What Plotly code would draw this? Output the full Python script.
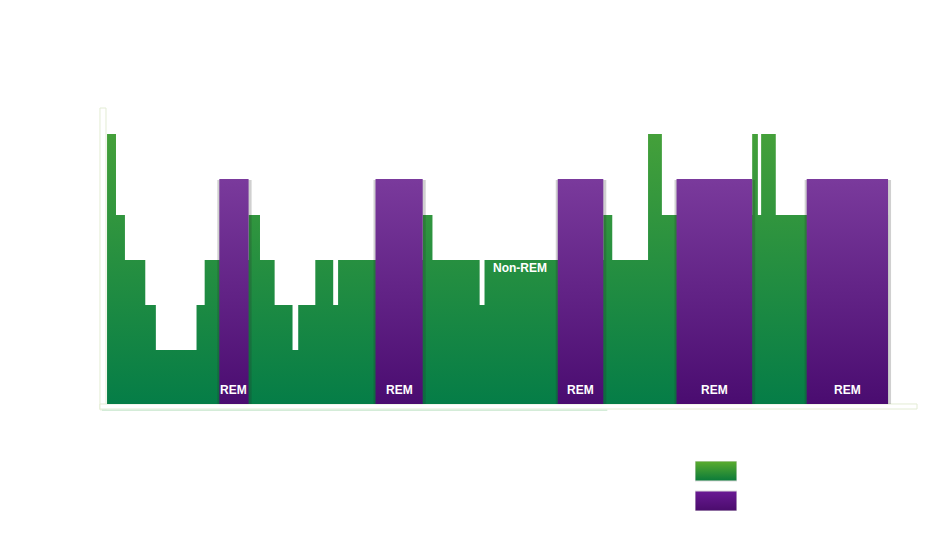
import plotly.graph_objects as go

# ---- data ----
# sleep stage depth levels (chart units)
stage_levels = {"Wake": 6.0, "N1": 4.2, "N2": 3.2, "N3": 2.2, "N4": 1.2}
rem_level = 5.0

# Non-REM hypnogram steps: (minute, stage)
nrem_times = [0, 5.5, 11, 23.5, 30, 55, 60, 87, 94, 103, 114, 117.5, 128, 139, 142,
              194, 200, 229, 232, 305, 310.5, 332.5, 341, 396.5, 400, 402, 411, 480]
nrem_stages = ["Wake", "N1", "N2", "N3", "N4", "N3", "N2", "N1", "N2", "N3", "N4", "N3",
               "N2", "N3", "N2", "N1", "N2", "N3", "N2", "N1", "N2", "Wake", "N1",
               "Wake", "N1", "Wake", "N1", "N1"]

# REM periods (start minute, end minute)
rem_start = [69, 165, 277, 350, 430]
rem_end = [87, 194, 305, 396.5, 480]

labels = ["Non-REM", "REM"]
nonrem_label_pos = (254, 3.02)

GREEN_TOP, GREEN_BOT = "#44a03a", "#057d47"
PURP_TOP, PURP_BOT = "#7a3a9c", "#4a0c70"

fig = go.Figure()

nrem_y = [stage_levels[s] for s in nrem_stages]
fig.add_trace(go.Scatter(
    x=nrem_times, y=nrem_y, mode="lines", line=dict(shape="hv", width=0, color=GREEN_BOT),
    fill="tozeroy",
    fillgradient=dict(type="vertical", start=0, stop=6,
                      colorscale=[[0, GREEN_BOT], [1, GREEN_TOP]]),
    hoverinfo="skip", showlegend=False))

px = 480 / 781.0  # minutes per pixel
# shadows
for s, e in zip(rem_start, rem_end):
    fig.add_trace(go.Scatter(
        x=[s - 2 * px, e + 3 * px, e + 3 * px, s - 2 * px, s - 2 * px],
        y=[0, 0, rem_level - 0.02, rem_level - 0.02, 0],
        mode="lines", line=dict(width=0), fill="toself",
        fillcolor="rgba(40,40,40,0.22)", hoverinfo="skip", showlegend=False))
for s, e in zip(rem_start, rem_end):
    fig.add_trace(go.Scatter(
        x=[s, e, e, s, s], y=[0, 0, rem_level, rem_level, 0],
        mode="lines", line=dict(width=0), fill="toself",
        fillgradient=dict(type="vertical", start=0, stop=rem_level,
                          colorscale=[[0, PURP_BOT], [1, PURP_TOP]]),
        hoverinfo="skip", showlegend=False))

FONT = "Liberation Sans, Arial"
annotations = []
for s, e in zip(rem_start, rem_end):
    annotations.append(dict(x=(s + e) / 2, y=0.31, xref="x", yref="y", text="<b>REM</b>",
                            showarrow=False, font=dict(color="white", size=12, family=FONT)))
annotations.append(dict(x=nonrem_label_pos[0], y=nonrem_label_pos[1], xref="x", yref="y",
                        text="<b>Non-REM</b>", showarrow=False,
                        font=dict(color="white", size=12, family=FONT)))

# legend swatches on a small auxiliary axis
fig.add_trace(go.Scatter(
    x=[0, 1, 1, 0, 0], y=[1.5, 1.5, 2.5, 2.5, 1.5], xaxis="x2", yaxis="y2",
    mode="lines", line=dict(width=1, color="#dcdcdc"), fill="toself",
    fillgradient=dict(type="vertical", start=1.5, stop=2.5,
                      colorscale=[[0, "#0a7a3a"], [1, "#5cad2e"]]),
    hoverinfo="skip", showlegend=False))
fig.add_trace(go.Scatter(
    x=[0, 1, 1, 0, 0], y=[0, 0, 1, 1, 0], xaxis="x2", yaxis="y2",
    mode="lines", line=dict(width=1, color="#dcdcdc"), fill="toself",
    fillgradient=dict(type="vertical", start=0, stop=1,
                      colorscale=[[0, "#4a0c6c"], [1, "#6a1a94"]]),
    hoverinfo="skip", showlegend=False))
for lab, yy in zip(labels, [2.0, 0.5]):
    annotations.append(dict(x=1.25, y=yy, xref="x2", yref="y2", text=lab, xanchor="left",
                            showarrow=False, font=dict(color="white", size=12, family=FONT)))

shapes = [
    dict(type="rect", xref="x domain", yref="y domain", x0=-0.0025, x1=0.0049,
         y0=-0.02, y1=1.0, line=dict(color="#e3ecd4", width=1), fillcolor="rgba(0,0,0,0)",
         layer="below"),
    dict(type="rect", xref="x domain", yref="y domain", x0=-0.0025, x1=1.0,
         y0=-0.017, y1=0.0, line=dict(color="#e3ecd4", width=1), fillcolor="white",
         layer="below"),
    dict(type="line", xref="x domain", yref="y domain", x0=0.0, x1=0.62,
         y0=-0.021, y1=-0.021, line=dict(color="#d4ecd8", width=1.5)),
]

fig.update_layout(
    width=950, height=550,
    margin=dict(l=94, r=41, t=100, b=38),
    paper_bgcolor="white", plot_bgcolor="white",
    xaxis=dict(range=[-3.1, 497.8], visible=False, domain=[0, 1]),
    yaxis=dict(range=[0, 6.58], visible=False, domain=[0.2816, 1]),
    xaxis2=dict(range=[0, 1], visible=False, domain=[0.7276, 0.7791], anchor="y2"),
    yaxis2=dict(range=[0, 2.5], visible=False, domain=[0.0218, 0.1432], anchor="x2"),
    annotations=annotations, shapes=shapes, showlegend=False,
)

fig.write_html("out.html")
